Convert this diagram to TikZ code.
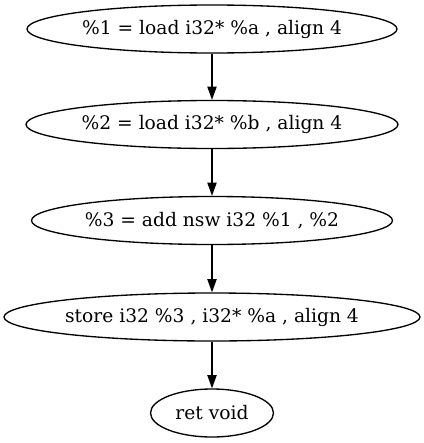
\documentclass[tikz,border=0pt]{standalone}
\usepackage{fontspec}
\setmainfont{DejaVu Serif}
\usetikzlibrary{shapes.geometric,arrows.meta}
\begin{document}
\begin{tikzpicture}[x=0.75pt,y=-0.75pt,
  irnode/.style={draw,ellipse,inner sep=0pt,minimum height=36pt,line width=1pt,font=\fontsize{14}{16}\selectfont},
  edge/.style={line width=1pt,-{Triangle[length=10pt,width=7pt]}}]
\useasboundingbox (0,0) rectangle (424,443);
\node[irnode,minimum width=277.5pt] (n1) at (212,29) {\%1 = load i32* \%a , align 4};
\node[irnode,minimum width=279pt] (n2) at (212,124.5) {\%2 = load i32* \%b , align 4};
\node[irnode,minimum width=270.75pt] (n3) at (212,220.5) {\%3 = add nsw i32 \%1 , \%2};
\node[irnode,minimum width=312pt] (n4) at (212,317) {store i32 \%3 , i32* \%a , align 4};
\node[irnode,minimum width=92.25pt] (n5) at (212,413) {ret void};
\draw[edge] (n1) -- (n2);
\draw[edge] (n2) -- (n3);
\draw[edge] (n3) -- (n4);
\draw[edge] (n4) -- (n5);
\end{tikzpicture}
\end{document}
